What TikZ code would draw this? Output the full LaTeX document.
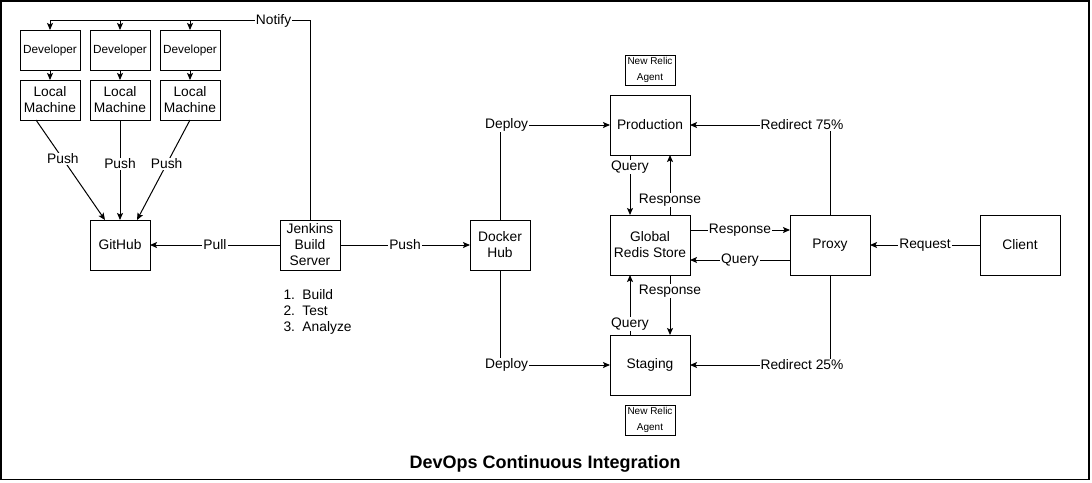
\documentclass[tikz,border=0pt]{standalone}
\usepackage{fontspec}
\setmainfont{Liberation Sans}
\usetikzlibrary{arrows.meta,positioning}

\begin{document}
\begin{tikzpicture}[x=1pt,y=-1pt,line width=1pt,
		>={Stealth[length=7pt,width=6pt,inset=1.5pt]},
		every node/.style={font=\fontsize{13.8}{16}\selectfont},
		box/.style={draw,inner sep=0pt,outer sep=0pt,align=center,minimum width=60pt,minimum height=50pt},
		devbox/.style={box,minimum height=40pt},
		bigbox/.style={box,minimum width=80pt,minimum height=60pt},
		agent/.style={box,minimum width=50pt,minimum height=30pt,font=\fontsize{10}{16}\selectfont},
		lbl/.style={fill=white,inner sep=1pt}]
				\useasboundingbox (0,0) rectangle (1092,482);
				\draw[line width=1.5pt] (0.75,0.75) rectangle (1089,479.5);
				
				\node[devbox,font=\fontsize{11.8}{14}\selectfont] (dev_1) at (50,50) {Developer};
				\node[devbox,font=\fontsize{11.8}{14}\selectfont] (dev_2) [right=10pt of dev_1] {Developer};
				\node[devbox,font=\fontsize{11.8}{14}\selectfont] (dev_3) [right=10pt of dev_2] {Developer};
				\node[devbox] (lm_1) [below=10pt of dev_1] {Local\\Machine};
				\node[devbox] (lm_2) [below=10pt of dev_2] {Local\\Machine};
				\node[devbox] (lm_3) [below=10pt of dev_3] {Local\\Machine};
				
				\node[box] (github) at (120,245) {GitHub};
				\node[box] (jenkins) [right=130pt of github] {Jenkins\\Build\\Server};
				\node[box] (dock) [right=130pt of jenkins] {Docker\\Hub};
				\node[anchor=west,align=left,inner sep=0pt] (steps) at (283,312)
				{\makebox[19pt][l]{1.}Build\\\makebox[19pt][l]{2.}Test\\\makebox[19pt][l]{3.}Analyze};
				
				\node[bigbox] (prod) at (650,125) {Production};
				\node[bigbox] (redis) [below=60pt of prod] {Global\\Redis Store};
				\node[bigbox] (stag) [below=60pt of redis] {Staging};
				\node[agent] (nr_1) [above=10pt of prod] {New Relic\\Agent};
				\node[agent] (nr_2) [below=10pt of stag] {New Relic\\Agent};
				\node[bigbox] (proxy) [right=100pt of redis] {Proxy};
				\node[bigbox] (client) [right=110pt of proxy] {Client};
				
				\node[font=\bfseries\fontsize{18}{20}\selectfont] (title) at (545,464) {DevOps Continuous Integration};
				
				% notify
				\coordinate (ntop) at (0,20.5);
				\draw[->] (jenkins.north) -- (jenkins.north |- ntop) -| node[lbl,pos=0.07] {Notify} (dev_1.north);
				\draw[->] (dev_2.north |- ntop) -- (dev_2.north);
				\draw[->] (dev_3.north |- ntop) -- (dev_3.north);
				
				\path[->]
				(dev_1) edge (lm_1)
				(dev_2) edge (lm_2)
				(dev_3) edge (lm_3)
				
				([xshift=-14pt]lm_1.south) edge node[lbl,pos=0.39] {Push} ([xshift=-15pt]github.north)
				(lm_2) edge node[lbl,pos=0.44] {Push} (github)
				(lm_3.south) edge node[lbl,pos=0.44] {Push} ([xshift=17pt]github.north)
				
				(jenkins) edge node[lbl] {Pull} (github)
				edge node[lbl] {Push} (dock)
				
				(client) edge node[lbl] {Request} (proxy);
				
				% deploy and redirect
				\draw[->] (dock) |- node[lbl,pos=0.53] {Deploy} (prod);
				\draw[->] (dock) |- node[lbl,pos=0.53] {Deploy} (stag);
				\draw[->] (proxy) |- node[lbl,pos=0.6] {Redirect 75\%} (prod);
				\draw[->] (proxy) |- node[lbl,pos=0.6] {Redirect 25\%} (stag);
				
				% redis store
				\path[->]
				([xshift=-20pt]prod.south) edge node[lbl,pos=0.2] {Query} ([xshift=-20pt]redis.north)
				([xshift=20pt]redis.north) edge node[lbl,pos=0.25] {Response} ([xshift=20pt]prod.south)
				([xshift=20pt]redis.south) edge node[lbl,pos=0.27] {Response} ([xshift=20pt]stag.north)
				([xshift=-20pt]stag.north) edge node[lbl,pos=0.18] {Query} ([xshift=-20pt]redis.south)
				([yshift=15pt]redis.east) edge node[lbl] {Response} ([yshift=15pt]proxy.west)
				([yshift=-15pt]proxy.west) edge node[lbl] {Query} ([yshift=-15pt]redis.east);
				
\end{tikzpicture}
\end{document}
